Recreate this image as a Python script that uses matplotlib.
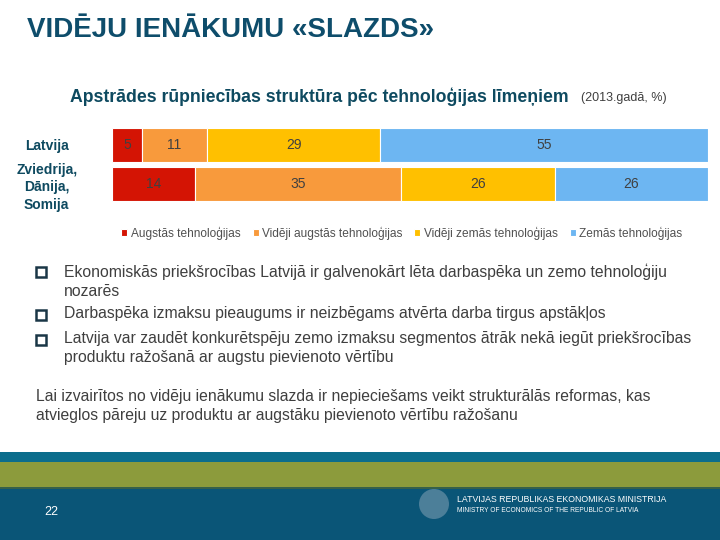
import matplotlib.pyplot as plt
from matplotlib.patches import Rectangle, Ellipse
import numpy as np

plt.rcParams['font.family'] = ['Liberation Sans', 'DejaVu Sans']

# data
countries = ['Latvija', 'Zviedrija,\nDānija,\nSomija']
categories = ['Augstās tehnoloģijas', 'Vidēji augstās tehnoloģijas',
              'Vidēji zemās tehnoloģijas', 'Zemās tehnoloģijas']
values = [[5, 14], [11, 35], [29, 26], [55, 26]]
colors = ['#D41404', '#F89A3C', '#FFC000', '#6DB6F2']

dark = '#0E4A60'
grey = '#3F3F3F'

fig = plt.figure(figsize=(7.2, 5.4), dpi=100)
W, H = 720, 540

def fx(x):
    return x / W

def fy(y):
    return 1 - y / H

# title and subtitle
fig.text(fx(27), fy(30), 'VIDĒJU IENĀKUMU «SLAZDS»', fontsize=20, fontweight='bold',
         color='#0E4D6B', va='center', ha='left')
fig.text(fx(70), fy(97), 'Apstrādes rūpniecības struktūra pēc tehnoloģijas līmeņiem',
         fontsize=12.7, fontweight='bold', color=dark, va='center', ha='left')
fig.text(fx(581), fy(98), '(2013.gadā, %)', fontsize=9, color=grey, va='center', ha='left')

# bar chart (100% stacked)
ax = fig.add_axes([fx(112), fy(204), fx(708 - 112), (204 - 125) / H])
ypos = np.arange(len(countries))
totals = np.array(values).sum(axis=0)
left = np.zeros(len(countries))
for i, cat in enumerate(categories):
    v = np.array(values[i])
    w = v / totals * 100
    ax.barh(ypos, w, left=left, height=0.86, color=colors[i], edgecolor='white',
            linewidth=0.8, label=cat)
    for j in range(len(countries)):
        ax.text(left[j] + w[j] / 2, ypos[j], str(v[j]), ha='center', va='center',
                fontsize=10, color='#404040')
    left = left + w
ax.set_xlim(0, 100)
ax.set_ylim(len(countries) - 0.5, -0.5)
ax.set_yticks(ypos)
ax.set_yticklabels(countries, fontsize=10, fontweight='bold', color=dark,
                   linespacing=1.3, ha='center')
ax.tick_params(axis='y', length=0, pad=47)
ax.set_xticks([])
for s in ax.spines.values():
    s.set_visible(False)

handles, labels = ax.get_legend_handles_labels()
fig.legend(handles, labels, loc='center', bbox_to_anchor=(fx(402), fy(233)), ncol=4,
           frameon=False, fontsize=8.6, handlelength=0.5, handleheight=0.5,
           handletextpad=0.3, columnspacing=1.0, labelcolor='#505050')

# bullet text
bullets = [(272, 'Ekonomiskās priekšrocības Latvijā ir galvenokārt lēta darbaspēka un zemo tehnoloģiju\nnozarēs'),
           (315, 'Darbaspēka izmaksu pieaugums ir neizbēgams atvērta darba tirgus apstākļos'),
           (340, 'Latvija var zaudēt konkurētspēju zemo izmaksu segmentos ātrāk nekā iegūt priekšrocības\nproduktu ražošanā ar augstu pievienoto vērtību')]
for y, t in bullets:
    fig.patches.append(Rectangle((fx(36), fy(y + 5)), 10 / W, 10 / H, transform=fig.transFigure,
                                 facecolor='white', edgecolor='#1A3646', linewidth=1.8))
    fig.text(fx(64), fy(y - 9), t, fontsize=11.3, color=grey, va='top', ha='left',
             linespacing=1.35)

fig.text(fx(36), fy(389), 'Lai izvairītos no vidēju ienākumu slazda ir nepieciešams veikt strukturālās reformas, kas\n'
         'atvieglos pāreju uz produktu ar augstāku pievienoto vērtību ražošanu',
         fontsize=11.3, color=grey, va='top', ha='left', linespacing=1.35)

# footer
fig.patches.append(Rectangle((0, fy(462)), 1, 10 / H, transform=fig.transFigure,
                             facecolor='#0B6D8C', edgecolor='none'))
fig.patches.append(Rectangle((0, fy(487)), 1, 25 / H, transform=fig.transFigure,
                             facecolor='#8C9B3C', edgecolor='none'))
fig.patches.append(Rectangle((0, 0), 1, fy(487), transform=fig.transFigure,
                             facecolor='#0A5577', edgecolor='none'))
fig.patches.append(Rectangle((0, fy(489)), 1, 2 / H, transform=fig.transFigure,
                             facecolor='#36604A', edgecolor='none'))
fig.text(fx(44), fy(512), '22', fontsize=9, color='white', va='center', ha='left')
fig.text(fx(457), fy(500), 'LATVIJAS REPUBLIKAS EKONOMIKAS MINISTRIJA', fontsize=6.3,
         color='white', va='center', ha='left')
fig.text(fx(457), fy(511), 'MINISTRY OF ECONOMICS OF THE REPUBLIC OF LATVIA', fontsize=4.8,
         color='white', va='center', ha='left')
fig.patches.append(Ellipse((fx(434), fy(504)), 30 / W, 30 / H, transform=fig.transFigure,
                           facecolor='#8FA9BC', edgecolor='none', alpha=0.5))

fig.savefig('out.png', dpi=100)
